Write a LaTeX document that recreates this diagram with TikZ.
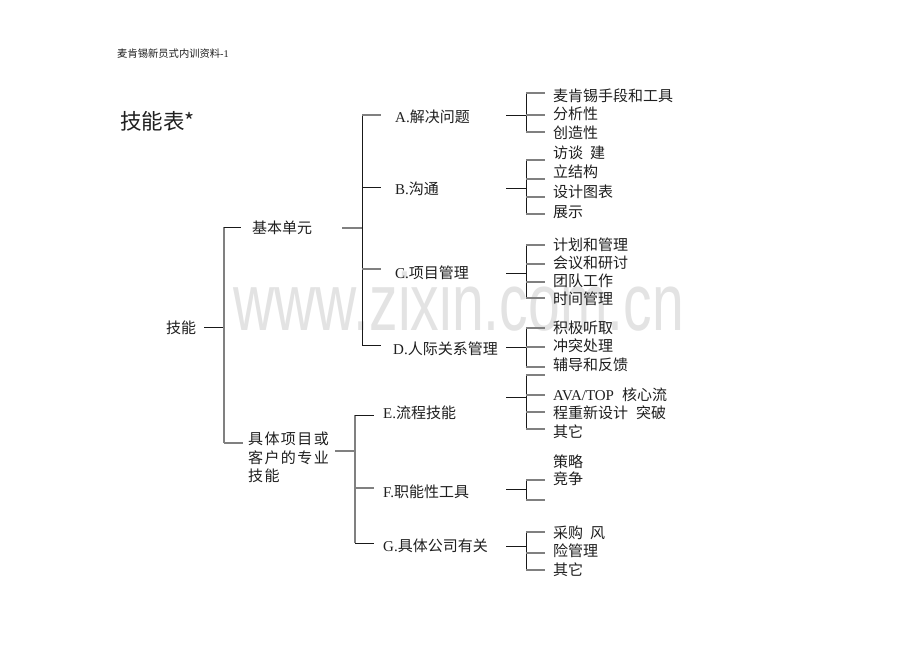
\documentclass[tikz,border=0pt]{standalone}
\usepackage{fontspec}
\usepackage{graphicx}
\setmainfont{Liberation Serif}
\newfontfamily\cjk{Noto Sans CJK SC}
\newfontfamily\wmfont{Liberation Sans}
\newcommand\lat[1]{{\rmfamily #1}}
\newcommand\ks{\kern1.4pt}
\tikzset{
  lbl/.style={inner sep=0pt, anchor=base west, text=black!88, font=\cjk\fontsize{15}{18}\selectfont},
  lk/.style={draw=black!90, line width=1pt},
  lg/.style={draw=black!50, line width=1.3pt},
}
\begin{document}
\begin{tikzpicture}[x=1pt,y=-1pt]
\useasboundingbox[fill=white] (0,0) rectangle (920,651);
% watermark
\node[inner sep=0pt, anchor=base west, text=black!11, font=\wmfont\fontsize{81}{81}\selectfont] (wm) at (233,330) {\scalebox{0.705}[1]{www.zixin.com.cn}};
% header and title
\node[lbl, font=\cjk\fontsize{10.3}{12}\selectfont] (hdr) at (117,57) {麦肯锡新员式内训资料\lat{-1}};
\node[lbl, font=\cjk\fontsize{21.5}{24}\selectfont] (title) at (120,129) {技能表*};
% level 0/1
\node[lbl] (root) at (166,333) {技能};
\node[lbl] (basic) at (252,233) {基本单元};
\node[lbl] (spec1) at (248,444) {具\ks 体\ks 项\ks 目\ks 或};
\node[lbl] (spec2) at (248,463) {客\ks 户\ks 的\ks 专\ks 业};
\node[lbl] (spec3) at (248,481) {技\ks 能};
% level 2
\node[lbl] (A) at (395,122) {\lat{A.}解决问题};
\node[lbl] (B) at (395,194) {\lat{B.}沟通};
\node[lbl] (C) at (395,278) {\lat{C.}项目管理};
\node[lbl] (D) at (393,354) {\lat{D.}人际关系管理};
\node[lbl] (E) at (383,418) {\lat{E.}流程技能};
\node[lbl] (F) at (383,497) {\lat{F.}职能性工具};
\node[lbl] (G) at (383,551) {\lat{G.}具体公司有关};
% level 3
\node[lbl] (a1) at (553,101) {麦肯锡手段和工具};
\node[lbl] (a2) at (553,119.5) {分析性};
\node[lbl] (a3) at (553,138) {创造性};
\node[lbl] (b1) at (553,158) {访谈\hspace{7pt}建};
\node[lbl] (b2) at (553,177) {立结构};
\node[lbl] (b3) at (553,197) {设计图表};
\node[lbl] (b4) at (553,217) {展示};
\node[lbl] (c1) at (553,250) {计划和管理};
\node[lbl] (c2) at (553,268) {会议和研讨};
\node[lbl] (c3) at (553,286) {团队工作};
\node[lbl] (c4) at (553,304) {时间管理};
\node[lbl] (d1) at (553,333) {积极听取};
\node[lbl] (d2) at (553,351) {冲突处理};
\node[lbl] (d3) at (553,370) {辅导和反馈};
\node[lbl] (e1) at (553,400) {\lat{AVA/TOP}\hspace{8pt}核心流};
\node[lbl] (e2) at (553,418) {程重新设计\hspace{8pt}突破};
\node[lbl] (e3) at (553,437) {其它};
\node[lbl] (f1) at (553,467) {策略};
\node[lbl] (f2) at (553,484) {竞争};
\node[lbl] (g1) at (553,538) {采购\hspace{7pt}风};
\node[lbl] (g2) at (553,556) {险管理};
\node[lbl] (g3) at (553,575) {其它};
% bracket level 1
\coordinate (j0) at (224,327);
\draw[lk] (204,327) -- (j0);
\draw[lg] (224,227) -- (224,443);
\draw[lk] (224,227) -- (241,227);
\draw[lg] (224,443) -- (243,443);
\draw[lg] (342,228) -- (362,228);
\draw[lg] (335,451) -- (355,451);
% bracket level 2 top
\draw[lk] (362,115) -- (362,345);
\draw[lg] (362,115) -- (381,115);
\draw[lk] (362,187) -- (381,187);
\draw[lg] (362,269) -- (381,269);
\draw[lk] (362,345) -- (381,345);
% bracket level 2 bottom
\draw[lg] (355,415) -- (355,543);
\draw[lk] (355,415) -- (374,415);
\draw[lg] (355,488) -- (374,488);
\draw[lk] (355,543) -- (374,543);
% level 3 brackets: top, bottom, stub y, arms
\foreach \t/\b/\s/\arms in {93/132/115/{93,115,132}, 160/214/188/{160,179,197,214}, 245/298/273/{245,264,282,298}, 328/367/347/{328,347,367}, 375/429/397/{375,395,412,429}, 480/500/489/{480,500}, 532/570/546/{532,553,570}}{
  \draw[lk] (526,\t) -- (526,\b);
  \draw[lk] (506,\s) -- (526,\s);
  \foreach \a in \arms { \draw[lg] (526,\a) -- (545,\a); }
}
\end{tikzpicture}
\end{document}
